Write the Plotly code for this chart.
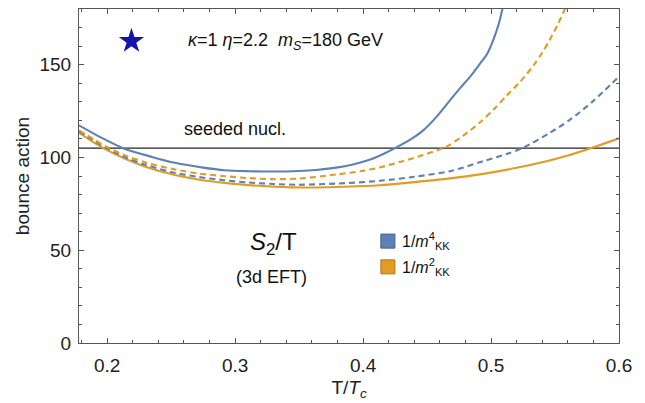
import plotly.graph_objects as go

# Bounce action S2/T versus T/Tc, 3d EFT, for two orders of the KK expansion
T_m4_full = [0.178, 0.195, 0.2125, 0.235, 0.253, 0.275, 0.292, 0.31, 0.328, 0.35,
             0.365, 0.379, 0.392, 0.405, 0.415, 0.425, 0.439, 0.447, 0.457, 0.468,
             0.476, 0.484, 0.491, 0.497, 0.502, 0.506, 0.509, 0.512]
S_m4_full = [117.3, 110.8, 105.0, 100.3, 97.1, 94.5, 93.1, 92.6, 92.4, 92.7,
             93.4, 94.5, 96.2, 98.7, 101.6, 105.0, 110.5, 114.6, 121.6, 130.9,
             137.5, 143.8, 150.2, 155.9, 163.8, 171.9, 180.3, 188.0]

T_m2_dash = [0.178, 0.19, 0.2, 0.215, 0.23, 0.253, 0.272, 0.292, 0.31, 0.328,
             0.35, 0.379, 0.398, 0.413, 0.431, 0.447, 0.465, 0.478, 0.491, 0.502,
             0.512, 0.523, 0.533, 0.54, 0.546, 0.552, 0.558, 0.562]
S_m2_dash = [114.6, 109.6, 105.6, 100.8, 97.3, 93.5, 91.3, 89.9, 88.9, 88.3,
             88.6, 90.8, 92.6, 94.6, 98.0, 101.3, 105.8, 111.6, 118.7, 125.8,
             133.2, 141.0, 149.4, 156.5, 163.5, 171.5, 180.4, 187.0]

T_m4_dash = [0.178, 0.19, 0.2, 0.215, 0.23, 0.253, 0.272, 0.292, 0.31, 0.33,
             0.35, 0.379, 0.413, 0.44, 0.468, 0.494, 0.512, 0.525, 0.546, 0.562,
             0.58, 0.6]
S_m4_dash = [114.0, 109.0, 104.9, 99.8, 96.0, 91.7, 89.4, 87.7, 86.5, 85.7,
             85.3, 85.9, 87.4, 89.6, 92.6, 98.0, 101.8, 105.2, 113.3, 120.5,
             130.5, 143.6]

T_m2_full = [0.178, 0.19, 0.197, 0.215, 0.23, 0.253, 0.272, 0.292, 0.31, 0.33,
             0.355, 0.379, 0.413, 0.44, 0.468, 0.495, 0.52, 0.54, 0.56, 0.579, 0.6]
S_m2_full = [113.3, 107.9, 105.0, 99.0, 95.0, 90.5, 88.0, 86.3, 85.1, 84.3,
             83.8, 84.1, 85.0, 86.7, 88.7, 91.3, 94.4, 97.4, 101.0, 105.2, 110.3]

seeded_level = 105.0
benchmark_T = [0.219]
benchmark_S = [162.7]

x_ticks = [0.2, 0.3, 0.4, 0.5, 0.6]
y_ticks = [0, 50, 100, 150]

BLUE = "#5E81B5"
ORANGE = "#E19C24"
FONT = "Arial, Liberation Sans, sans-serif"

fig = go.Figure()

fig.add_trace(go.Scatter(x=[0.178, 0.6], y=[seeded_level, seeded_level], mode="lines",
                         line=dict(color="#222222", width=1.1), showlegend=False))

for xs, ys, col, dash in [
    (T_m2_full, S_m2_full, ORANGE, "solid"),
    (T_m4_dash, S_m4_dash, BLUE, "6px,4px"),
    (T_m2_dash, S_m2_dash, ORANGE, "6px,4px"),
    (T_m4_full, S_m4_full, BLUE, "solid"),
]:
    fig.add_trace(go.Scatter(x=xs, y=ys, mode="lines",
                             line=dict(color=col, width=2.1, dash=dash, shape="spline", smoothing=0.8),
                             showlegend=False))

fig.add_trace(go.Scatter(x=benchmark_T, y=benchmark_S, mode="markers",
                         marker=dict(symbol="star", size=19, color="#1414A8"),
                         showlegend=False))

axis_common = dict(
    showgrid=False, zeroline=False, showline=True, linecolor="#555555", linewidth=1,
    mirror="ticks", ticks="inside", ticklen=5, tickwidth=1, tickcolor="#555555",
    tickfont=dict(family=FONT, size=19, color="#222222"),
)

fig.update_xaxes(
    range=[0.178, 0.6], tickvals=x_ticks, ticktext=[f"{v:.1f}" for v in x_ticks],
    minor=dict(dtick=0.02, tick0=0.0, ticks="inside", ticklen=3, tickcolor="#555555"),
    ticklabelstandoff=5,
    title=dict(text="T/<i>T<sub>c</sub></i>", font=dict(family=FONT, size=19, color="#222222"), standoff=5),
    **axis_common,
)
fig.update_yaxes(
    range=[0, 180], tickvals=y_ticks,
    minor=dict(dtick=10, tick0=0, ticks="inside", ticklen=3, tickcolor="#555555"),
    ticklabelstandoff=3,
    title=dict(text="bounce action", font=dict(family=FONT, size=19, color="#222222"), standoff=4),
    **axis_common,
)

annotations = [
    dict(x=0.3, y=115.1, text="seeded nucl.", font=dict(size=18)),
    dict(x=0.2616, y=162.7, xanchor="left",
         text="<i>κ</i>=1 <i>η</i>=2.2\u00a0\u00a0<i>m<sub>S</sub></i>=180 GeV", font=dict(size=18)),
    dict(x=0.3303, y=53.5, text="<i>S</i><sub>2</sub>/T", font=dict(size=24)),
    dict(x=0.3288, y=35.7, text="(3d EFT)", font=dict(size=18)),
]
for a in annotations:
    a.setdefault("xanchor", "center")
    a["font"] = dict(family=FONT, color="#111111", **a["font"])
    fig.add_annotation(xref="x", yref="y", showarrow=False, yanchor="middle", **a)

# key swatches with their labels
for y0, y1, col, edge, label in [
    (0.284, 0.326, BLUE, "#3F5F8F", "1/<i>m</i><sup>4</sup><sub>KK</sub>"),
    (0.207, 0.249, ORANGE, "#B07810", "1/<i>m</i><sup>2</sup><sub>KK</sub>"),
]:
    fig.add_shape(type="rect", xref="paper", yref="paper", x0=0.559, x1=0.585, y0=y0, y1=y1,
                  fillcolor=col, line=dict(color=edge, width=1))
    fig.add_annotation(xref="paper", yref="paper", x=0.594, y=(y0 + y1) / 2, xanchor="left",
                       yanchor="middle", showarrow=False, text=label,
                       font=dict(family=FONT, size=16, color="#111111"))

fig.update_layout(
    width=645, height=403,
    margin=dict(l=79, r=26, t=9, b=60),
    paper_bgcolor="white", plot_bgcolor="white",
    font=dict(family=FONT),
)

fig.write_html("out.html")
